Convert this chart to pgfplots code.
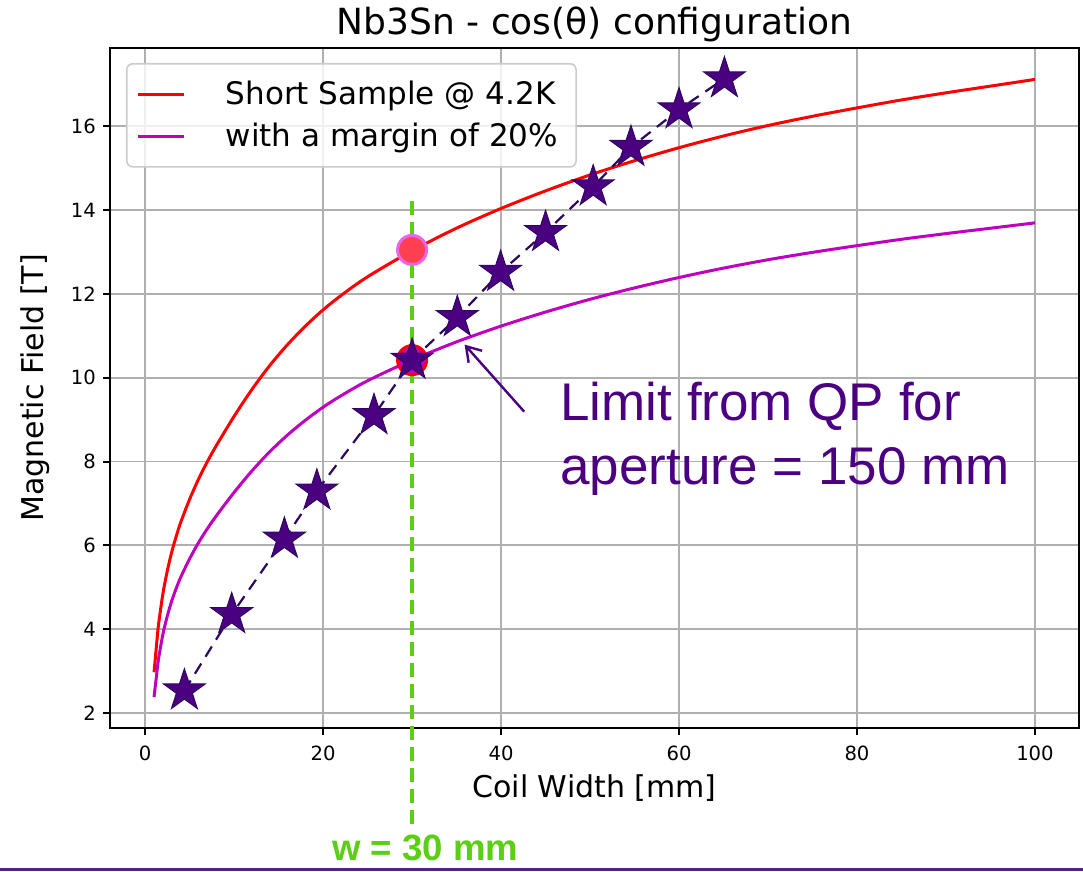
\documentclass[border=0pt]{standalone}
\usepackage{pgfplots}
\pgfplotsset{compat=1.18}
\usepackage{fontspec}
\setmainfont{DejaVu Sans}
\newfontfamily\arialfont{Liberation Sans}
\usetikzlibrary{arrows.meta}

\definecolor{mplred}{RGB}{255,0,0}
\definecolor{mplmag}{RGB}{191,0,191}
\definecolor{gridgray}{RGB}{176,176,176}
\definecolor{indigo}{RGB}{75,0,130}
\definecolor{starline}{RGB}{45,8,95}
\definecolor{wgreen}{RGB}{92,206,20}
\definecolor{circred}{RGB}{255,64,80}
\definecolor{circedge}{RGB}{235,100,235}
\definecolor{slidepurple}{RGB}{85,35,135}

\pgfdeclareplotmark{mplstar}{%
 \pgfpathmoveto{\pgfpointpolar{90}{\pgfplotmarksize}}%
 \pgfpathlineto{\pgfpointpolar{126}{0.382\pgfplotmarksize}}%
 \pgfpathlineto{\pgfpointpolar{162}{\pgfplotmarksize}}%
 \pgfpathlineto{\pgfpointpolar{198}{0.382\pgfplotmarksize}}%
 \pgfpathlineto{\pgfpointpolar{234}{\pgfplotmarksize}}%
 \pgfpathlineto{\pgfpointpolar{270}{0.382\pgfplotmarksize}}%
 \pgfpathlineto{\pgfpointpolar{306}{\pgfplotmarksize}}%
 \pgfpathlineto{\pgfpointpolar{342}{0.382\pgfplotmarksize}}%
 \pgfpathlineto{\pgfpointpolar{18}{\pgfplotmarksize}}%
 \pgfpathlineto{\pgfpointpolar{54}{0.382\pgfplotmarksize}}%
 \pgfpathclose
 \pgfusepathqfillstroke
}

\begin{document}
\begin{tikzpicture}
\begin{axis}[
  width=484.5pt, height=340pt, scale only axis,
  xmin=-3.95, xmax=104.95, ymin=1.64, ymax=17.87,
  xtick={0,20,...,100}, ytick={2,4,...,16},
  grid=major, major grid style={gridgray, line width=0.9pt},
  axis line style={line width=1pt, black},
  tick style={black, line width=1pt}, major tick length=3.5pt,
  tick align=outside, tick pos=left,
  ticklabel style={font=\fontsize{9.8}{11}\selectfont},
  xticklabel style={yshift=-2pt},
  /pgf/number format/assume math mode=true,
  every axis title shift=0pt,
  title={Nb3Sn - cos(θ) configuration},
  title style={font=\fontsize{18}{21}\selectfont, at={(axis description cs:0.5,1)}, anchor=base, yshift=6.5pt},
  xlabel={Coil Width [mm]},
  xlabel style={font=\fontsize{15}{17}\selectfont, at={(axis description cs:0.5,-0.1029)}, anchor=base},
  ylabel={Magnetic Field [T]},
  ylabel style={font=\fontsize{15}{17}\selectfont, at={(axis description cs:-0.0691,0.5)}, anchor=base},
  clip=false,
  legend style={at={(axis description cs:0.0165,0.978)}, anchor=north west,
    draw={rgb,255:red,204;green,204;blue,204}, line width=0.8pt, rounded corners=3pt,
    fill=white, fill opacity=0.8, text opacity=1, inner xsep=5pt, inner ysep=6.5pt,
    font=\fontsize{15.5}{18}\selectfont, row sep=4pt, column sep=16pt,
    nodes={inner xsep=4pt, inner ysep=2pt}},
  legend cell align=left,
  legend image code/.code={\draw[#1, line width=1.5pt] (0pt,0pt) -- (23pt,0pt);},
]
\addplot[mplred, line width=1.5pt, smooth] coordinates {
(1,2.97) (1.25,3.55) (1.5,4.1) (2,4.85) (2.5,5.4) (3,5.85) (3.5,6.22) (4,6.55)
(5,7.1) (6,7.58) (7,8.0) (8,8.38) (10,9.08) (12,9.72) (14,10.29) (16,10.79)
(18,11.23) (20,11.62) (22,11.96) (25,12.41) (30,13.03) (35,13.57) (40,14.04)
(45,14.46) (50,14.84) (55,15.18) (60,15.49) (65,15.77) (70,16.02) (75,16.24)
(80,16.44) (85,16.63) (90,16.8) (95,16.96) (100,17.12)
};
\addlegendentry{Short Sample @ 4.2K}
\addplot[mplmag, line width=1.5pt, smooth] coordinates {
(1,2.376) (1.25,2.84) (1.5,3.28) (2,3.88) (2.5,4.32) (3,4.68) (3.5,4.976) (4,5.24)
(5,5.68) (6,6.064) (7,6.4) (8,6.704) (10,7.264) (12,7.776) (14,8.232) (16,8.632)
(18,8.984) (20,9.296) (22,9.568) (25,9.928) (30,10.424) (35,10.856) (40,11.232)
(45,11.568) (50,11.872) (55,12.144) (60,12.392) (65,12.616) (70,12.816) (75,12.992)
(80,13.152) (85,13.304) (90,13.44) (95,13.568) (100,13.696)
};
\addlegendentry{with a margin of 20\%}
\addplot[wgreen, line width=2pt, dash pattern=on 7pt off 3.5pt, forget plot] coordinates {(30,14.21) (30,-0.74)};
\addplot[only marks, mark=*, mark size=7.25pt, mark options={fill=circred, draw=circedge, line width=1.5pt}, forget plot] coordinates {(30,13.05)};
\addplot[only marks, mark=*, mark size=7.25pt, mark options={fill=mplmag, draw=red, line width=1.5pt}, forget plot] coordinates {(30,10.42)};
\addplot[starline, line width=1.1pt, dash pattern=on 6pt off 4pt, mark=mplstar, mark size=11pt,
  mark options={solid, fill=indigo, draw=starline, line width=0.5pt}, forget plot] coordinates {
(4.41,2.53) (9.73,4.35) (15.65,6.15) (19.3,7.3) (25.72,9.1) (30,10.42) (35.08,11.44)
(39.95,12.52) (45.0,13.47) (50.35,14.56) (54.6,15.5) (60.0,16.4) (65.1,17.14)
};
\draw[indigo, line width=1.2pt, -{Straight Barb[length=7pt,width=9pt]}] (axis cs:42.6,9.19) -- (axis cs:35.9,10.79);
\node[anchor=base west, font=\arialfont\fontsize{26.5}{30}\selectfont, text=indigo, inner sep=0pt] at (axis cs:46.63,8.99) {Limit from QP for};
\node[anchor=base west, font=\arialfont\fontsize{26.5}{30}\selectfont, text=indigo, inner sep=0pt] at (axis cs:46.63,7.46) {aperture = 150 mm};
\node[anchor=base, font=\arialfont\bfseries\fontsize{18.3}{20}\selectfont, text=wgreen, inner sep=0pt] at (axis cs:31.5,-1.52) {w = 30 mm};
\end{axis}
\pgfresetboundingbox
\path[use as bounding box] ([xshift=-55pt,yshift=-72pt]current axis.south west) rectangle ([xshift=2pt,yshift=24pt]current axis.north east);
\draw[slidepurple, line width=1.5pt] ([xshift=-55pt,yshift=-71pt]current axis.south west) -- ([xshift=2pt,yshift=-71pt]current axis.south east);
\end{tikzpicture}
\end{document}
